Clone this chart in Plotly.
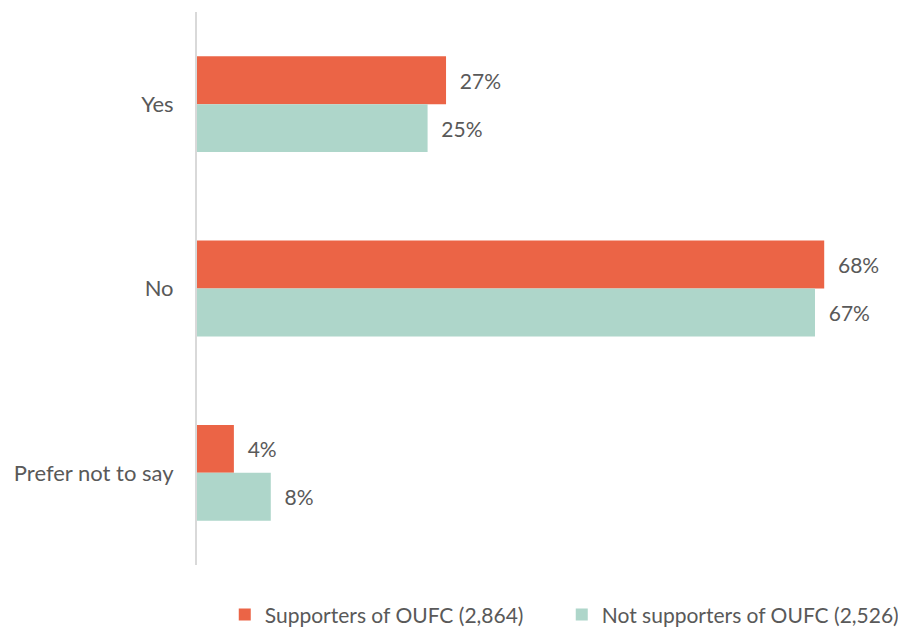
import plotly.graph_objects as go

categories = ["Yes", "No", "Prefer not to say"]
supporters = [27, 68, 4]
non_supporters = [25, 67, 8]
series_names = ["Supporters of OUFC (2,864)", "Not supporters of OUFC (2,526)"]

FONT = "Lato"
GREY = "#595959"

fig = go.Figure()
fig.add_trace(go.Bar(
    y=categories, x=supporters, orientation="h", name=series_names[0],
    marker=dict(color="#EB6446", line=dict(width=0)),
    texttemplate="  %{x}%", textposition="outside",
    textfont=dict(family=FONT, size=21, color=GREY), cliponaxis=False,
))
fig.add_trace(go.Bar(
    y=categories, x=non_supporters, orientation="h", name=series_names[1],
    marker=dict(color="#AED6CA", line=dict(width=0)),
    texttemplate="  %{x}%", textposition="outside",
    textfont=dict(family=FONT, size=21, color=GREY), cliponaxis=False,
))

fig.update_layout(
    width=906, height=628,
    margin=dict(l=189, r=16, t=4, b=71, autoexpand=False),
    barmode="group", bargap=0.48, bargroupgap=0,
    plot_bgcolor="white", paper_bgcolor="white",
    font=dict(family=FONT, size=22, color=GREY),
    showlegend=True,
    legend=dict(orientation="h", x=0.0396, xanchor="left", y=-0.053, yanchor="top",
                font=dict(family=FONT, size=21, color=GREY),
                itemwidth=30, entrywidth=292, entrywidthmode="pixels",
                traceorder="normal"),
    xaxis=dict(range=[0, 76], showgrid=False, zeroline=False, showticklabels=False,
               showline=False, fixedrange=True, automargin=False),
    yaxis=dict(autorange="reversed", showgrid=False, zeroline=False,
               showline=True, linecolor="#D9D9D9", linewidth=2,
               ticks="", ticklabelstandoff=17, automargin=False,
               tickfont=dict(family=FONT, size=22, color=GREY)),
)

fig.write_html("out.html")
